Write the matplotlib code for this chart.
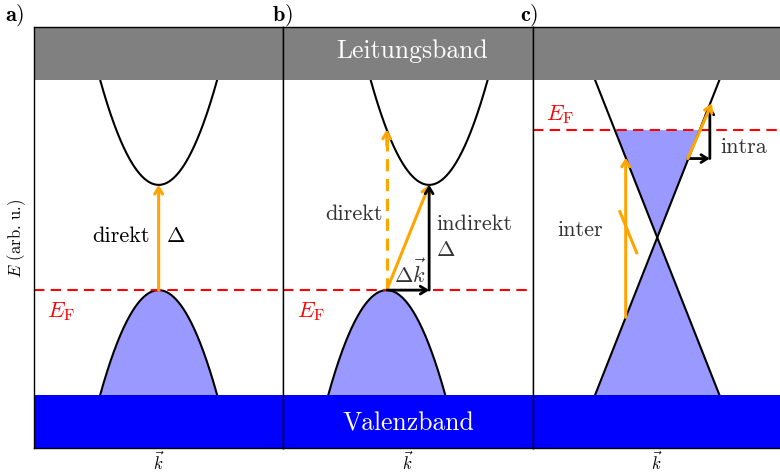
import numpy as np
import matplotlib
matplotlib.use("Agg")
import matplotlib.pyplot as plt

plt.rcParams['font.family'] = 'serif'
plt.rcParams['font.serif'] = ['cmr10']
plt.rcParams['mathtext.fontset'] = 'cm'
plt.rcParams['axes.unicode_minus'] = False

# ---- data (energy in arb. units, k in arb. units) ----
panel_labels = ["a", "b", "c"]
band_bottom = [0.0, 1.0]      # valence band region
band_top = [7.0, 8.0]         # conduction band region
E_F = [3.0, 3.0, 6.05]
E_v = [3.0, 3.0]              # valence maxima (a, b)
E_c = [5.0, 5.0]              # conduction minima (a, b)
k_v = [0.0, -0.17]            # k of valence max
k_c = [0.0, 0.17]             # k of conduction min
curv = 9.05                   # parabola curvature
k_half = 0.47
E_dirac = 4.0
slope_dirac = 6.0
k_dirac_half = 0.5
dashed_direct_top = 6.05
inter_k = -0.253
intra_k = [0.245, 0.422]
intra_E = [5.5, 6.5]
intra_orange_end = [0.438, 6.55]
slash_k = [-0.30, -0.165]
slash_E = [4.49, 3.71]

orange = '#ffa500'
fillc = '#9999ff'

fig = plt.figure(figsize=(7.8, 4.74), dpi=100)
W = 249.3 / 780
left0 = 34 / 780
bottom = 1 - 448 / 474
height = (448 - 27) / 474
axes = [fig.add_axes([left0 + i * W, bottom, W, height]) for i in range(3)]

arr_kw = dict(arrowstyle='->,head_length=0.45,head_width=0.28', shrinkA=0, shrinkB=0)

def arrow(ax, x0, y0, x1, y1, color, lw, z=5):
    ax.annotate('', xy=(x1, y1), xytext=(x0, y0),
                arrowprops=dict(color=color, lw=lw, **arr_kw), zorder=z)

for i, ax in enumerate(axes):
    ax.set_xlim(-1, 1)
    ax.set_ylim(0, 8)
    ax.set_xticks([])
    ax.set_yticks([])
    ax.axhspan(band_bottom[0], band_bottom[1], color='#0000ff', zorder=3, lw=0)
    ax.axhspan(band_top[0], band_top[1], color='#808080', zorder=3, lw=0)
    ax.axhline(E_F[i], color='red', ls=(0, (5, 3)), lw=1.5, zorder=4)
    for s in ax.spines.values():
        s.set_linewidth(1.0)
        s.set_zorder(6)
    ax.set_xlabel(r'$\vec{k}$', fontsize=12, labelpad=2)

# parabolic panels a, b
for i in range(2):
    ax = axes[i]
    k = np.linspace(-k_half, k_half, 200)
    ev = E_v[i] - curv * k**2
    ec = E_c[i] + curv * k**2
    ax.fill_between(k + k_v[i], ev, band_bottom[1], color=fillc, lw=0, zorder=1)
    ax.plot(k + k_v[i], ev, color='black', lw=1.5, zorder=2)
    ax.plot(k + k_c[i], ec, color='black', lw=1.5, zorder=2)
    ax.text(-0.78, 2.6, r'$E_\mathrm{F}$', color='red', fontsize=16, ha='center', va='center')

# panel a
ax = axes[0]
arrow(ax, k_v[0], E_v[0], k_c[0], E_c[0], orange, 2.2)
ax.text(-0.30, 4.03, 'direkt', fontsize=16, ha='center', va='center', color='black')
ax.text(0.14, 4.03, r'$\Delta$', fontsize=16, ha='center', va='center')
fig.text(5 / 780, 1 - 15 / 474, r'$\mathbf{a}$)', fontsize=16, ha='left', va='center')

# panel b
ax = axes[1]
ax.plot([k_v[1], k_v[1]], [E_v[1], dashed_direct_top - 0.1], color=orange, lw=2.2,
        ls=(0, (4, 2.5)), zorder=5)
arrow(ax, k_v[1], dashed_direct_top - 0.3, k_v[1], dashed_direct_top, orange, 2.2)
arrow(ax, k_v[1], E_v[1], k_c[1], E_c[1], orange, 2.2)
arrow(ax, k_v[1], E_v[1], k_c[1], E_v[1], 'black', 2.0)
arrow(ax, k_c[1], E_v[1], k_c[1], E_c[1], 'black', 2.0)
ax.text(-0.43, 4.45, 'direkt', fontsize=16, ha='center', va='center', color='#333333')
ax.text(0.225, 4.25, 'indirekt', fontsize=16, ha='left', va='center', color='#333333')
ax.text(0.225, 3.76, r'$\Delta$', fontsize=16, ha='left', va='center', color='#333333')
ax.text(0.02, 3.33, r'$\Delta\vec{k}$', fontsize=16, ha='center', va='center', color='#333333')
ax.text(0.03, 7.55, 'Leitungsband', fontsize=18.5, ha='center', va='center', color='white', zorder=7)
ax.text(0.0, 0.47, 'Valenzband', fontsize=18.5, ha='center', va='center', color='white', zorder=7)
fig.text(272 / 780, 1 - 15 / 474, r'$\mathbf{b}$)', fontsize=16, ha='left', va='center')

# panel c (Dirac cone)
ax = axes[2]
kl = np.linspace(-k_dirac_half, k_dirac_half, 201)
# filled region below E_F inside the cone
kf = (E_F[2] - E_dirac) / slope_dirac
kfill = np.linspace(-kf, kf, 201)
ax.fill_between(kfill, E_dirac + slope_dirac * np.abs(kfill), E_F[2], color=fillc, lw=0, zorder=1)
ax.fill_between(kl, band_bottom[1], E_dirac - slope_dirac * np.abs(kl), color=fillc, lw=0, zorder=1)
ax.plot([-k_dirac_half, k_dirac_half], [E_dirac - slope_dirac * k_dirac_half, E_dirac + slope_dirac * k_dirac_half],
        color='black', lw=1.5, zorder=2)
ax.plot([-k_dirac_half, k_dirac_half], [E_dirac + slope_dirac * k_dirac_half, E_dirac - slope_dirac * k_dirac_half],
        color='black', lw=1.5, zorder=2)
arrow(ax, inter_k, E_dirac + slope_dirac * inter_k, inter_k, E_dirac - slope_dirac * inter_k, orange, 2.2)
ax.plot(slash_k, slash_E, color=orange, lw=2.2, zorder=5)
arrow(ax, intra_k[0], intra_E[0], intra_k[1], intra_E[0], 'black', 2.0)
arrow(ax, intra_k[1], intra_E[0], intra_k[1], intra_E[1], 'black', 2.0)
arrow(ax, intra_k[0], intra_E[0], intra_orange_end[0], intra_orange_end[1], orange, 2.2)
ax.text(-0.62, 4.14, 'inter', fontsize=16, ha='center', va='center', color='#333333')
ax.text(0.69, 5.72, 'intra', fontsize=16, ha='center', va='center', color='#333333')
ax.text(-0.78, 6.33, r'$E_\mathrm{F}$', color='red', fontsize=16, ha='center', va='center')
fig.text(520 / 780, 1 - 15 / 474, r'$\mathbf{c}$)', fontsize=16, ha='left', va='center')

fig.text(17 / 780, 1 - 238 / 474, r'$E$ (arb. u.)', fontsize=12, rotation=90,
         ha='center', va='center')

fig.savefig('out.png', dpi=100)
